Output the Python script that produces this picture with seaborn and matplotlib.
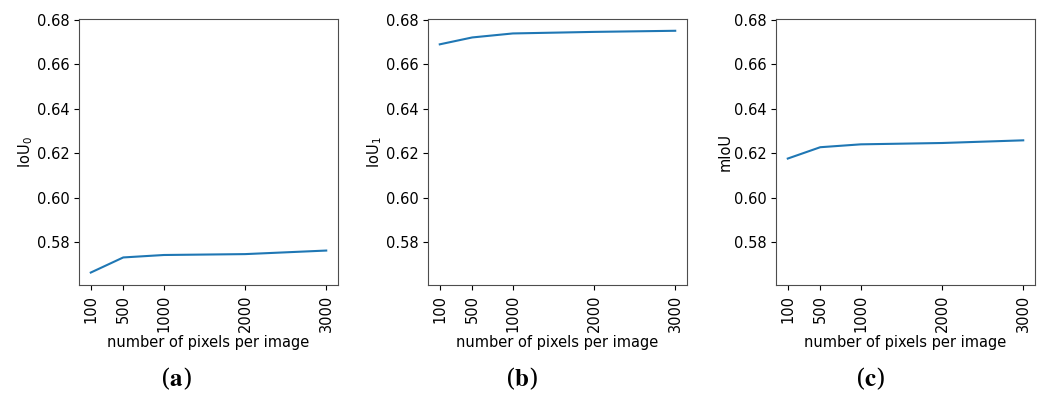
import pandas as pd
import numpy as np
import seaborn as sns
import matplotlib.pyplot as plt

pixels = [100, 500, 1000, 2000, 3000]
iou0 = [0.5663, 0.5731, 0.5742, 0.5746, 0.5762]
iou1 = [0.6690, 0.6721, 0.6739, 0.6746, 0.6751]
miou = [0.6176, 0.6227, 0.6240, 0.6246, 0.6258]
ylabels = ['IoU$_0$', 'IoU$_1$', 'mIoU']
captions = ['a', 'b', 'c']

plt.rcParams['font.family'] = ['DejaVu Sans']
plt.rcParams['mathtext.fontset'] = 'dejavusans'

fig = plt.figure(figsize=(10.4, 3.94), dpi=100)
lefts = [79, 428, 776]
cap_x = [176, 522, 870]
axes = []
for i, (vals, lab) in enumerate(zip([iou0, iou1, miou], ylabels)):
    ax = fig.add_axes([lefts[i] / 1040, 109 / 394, 259 / 1040, 266 / 394],
                      sharey=axes[0] if axes else None)
    df = pd.DataFrame({'pixels': pixels, 'value': vals})
    sns.lineplot(data=df, x='pixels', y='value', ax=ax, color='#1f77b4', linewidth=1.5)
    ax.set_xticks(pixels)
    ax.set_xticklabels([str(p) for p in pixels], rotation=90)
    ax.set_yticks([0.58, 0.60, 0.62, 0.64, 0.66, 0.68])
    ax.set_xlabel('number of pixels per image', fontsize=10.5, labelpad=2)
    ax.set_ylabel(lab, fontsize=10.5, labelpad=1)
    ax.tick_params(labelsize=10.5)
    ax.tick_params(axis='y', labelleft=True)
    for s in ax.spines.values():
        s.set_color('.3')
    axes.append(ax)

    fig.text(cap_x[i] / 1040, 0.005, r'($\mathbf{%s}$)' % captions[i], ha='center', va='bottom',
             fontsize=18, family='serif', math_fontfamily='stix')

axes[0].set_ylim(0.5607, 0.6804)
plt.savefig('out.png', dpi=100)
